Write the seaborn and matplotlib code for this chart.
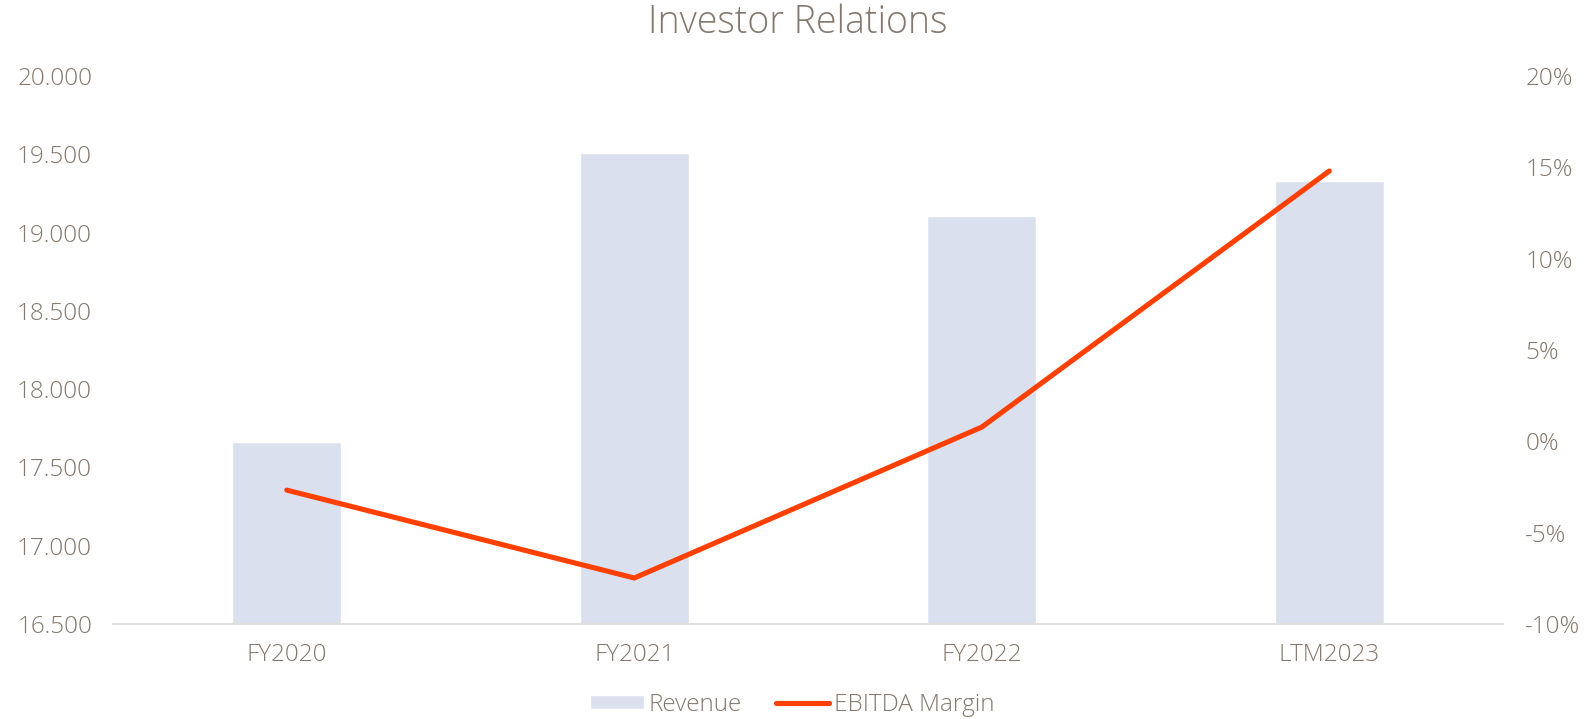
import matplotlib
matplotlib.use("Agg")
import matplotlib.pyplot as plt
import seaborn as sns
import numpy as np
import pandas as pd
from matplotlib.ticker import FuncFormatter, FixedLocator

categories = ["FY2020", "FY2021", "FY2022", "LTM2023"]
revenue = [17660, 19510, 19105, 19330]
ebitda_margin = [-2.67, -7.48, 0.78, 14.8]
left_ticks = [16500, 17000, 17500, 18000, 18500, 19000, 19500, 20000]
right_ticks = [-10, -5, 0, 5, 10, 15, 20]

TEXT = "#84796e"
BAR = "#dae0ee"
LINE = "#ff4000"
AXIS = "#e2dedb"

sns.set_theme(style="white")
plt.rcParams["font.family"] = ["Open Sans", "DejaVu Sans"]
plt.rcParams["font.weight"] = "light"

df = pd.DataFrame({"cat": categories, "rev": revenue, "m": ebitda_margin,
                   "pos": np.arange(len(categories))})

fig = plt.figure(figsize=(15.85, 7.19), dpi=100)
ax = fig.add_axes([0.0713, 0.1321, 0.9483 - 0.0713, 0.8943 - 0.1321])
sns.barplot(data=df, x="cat", y="rev", color=BAR, width=0.314, ax=ax,
            label="Revenue", saturation=1)
ax.set_ylim(16500, 20000)
ax.set_xlim(-0.5, 3.5)
ax.yaxis.set_major_locator(FixedLocator(left_ticks))
ax.yaxis.set_major_formatter(FuncFormatter(lambda v, p: f"{int(v):,}".replace(",", ".")))
ax.set_xlabel("")
ax.set_ylabel("")

ax2 = ax.twinx()
sns.lineplot(data=df, x="pos", y="m", color=LINE, linewidth=3.7, ax=ax2,
             label="EBITDA Margin", solid_capstyle="round", solid_joinstyle="round")
ax2.set_ylim(-10, 20)
ax2.yaxis.set_major_locator(FixedLocator(right_ticks))
ax2.yaxis.set_major_formatter(FuncFormatter(lambda v, p: f"{int(round(v))}%"))
ax2.set_ylabel("")
ax2.set_xlim(-0.5, 3.5)

for a in (ax, ax2):
    for s in ("top", "left", "right"):
        a.spines[s].set_visible(False)
    a.spines["bottom"].set_color(AXIS)
    a.spines["bottom"].set_linewidth(1.5)
    a.grid(False)
ax2.spines["bottom"].set_visible(False)

FS = 17.5
ax.tick_params(axis="y", length=0, pad=15, labelsize=FS, labelcolor=TEXT)
ax.tick_params(axis="x", length=0, pad=14, labelsize=FS, labelcolor=TEXT)
ax2.tick_params(axis="y", length=0, pad=16, labelsize=FS, labelcolor=TEXT)

h1, l1 = ax.get_legend_handles_labels()
h2, l2 = ax2.get_legend_handles_labels()
if ax2.get_legend():
    ax2.get_legend().remove()
if ax.get_legend():
    ax.get_legend().remove()
fig.legend(h1 + h2, l1 + l2, loc="center", bbox_to_anchor=(0.5, 0.02), ncol=2,
           frameon=False, fontsize=FS, labelcolor=TEXT, handlelength=2.2,
           handletextpad=0.2, columnspacing=1.4, handleheight=0.55)

fig.text(0.503, 0.968, "Investor Relations", ha="center", va="center",
         fontsize=27, color=TEXT)

fig.savefig("out.png", dpi=100)
